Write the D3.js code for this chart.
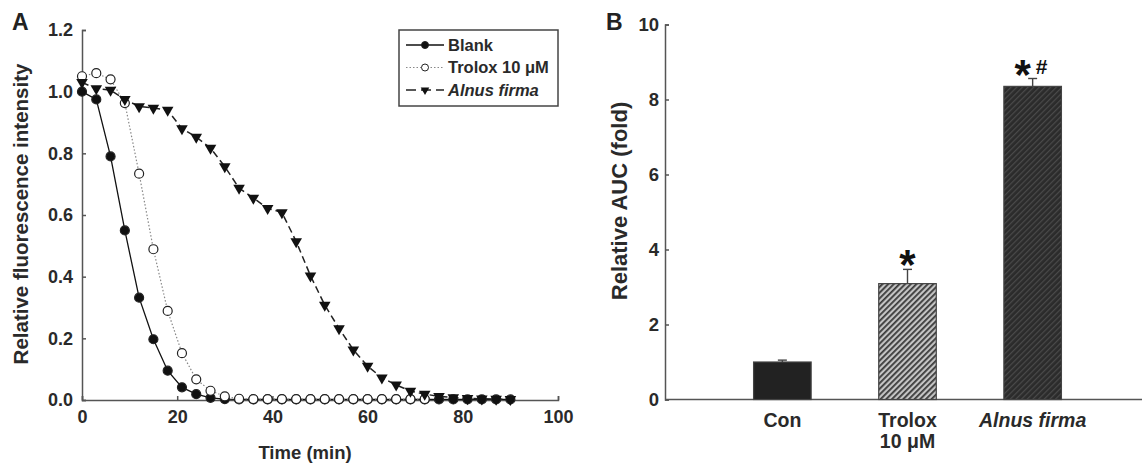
<!DOCTYPE html>
<html>
<head>
<meta charset="utf-8">
<script src="https://cdn.jsdelivr.net/npm/d3@7"></script>
<style>
  body { margin: 0; background: #fff; }
  svg { display: block; font-family: "Liberation Sans", Arial, sans-serif; font-weight: bold; }
  .axis path, .axis line { stroke: #555; stroke-width: 1.5; }
  .axis text { fill: #2a2a2a; font-family: "Liberation Sans", Arial, sans-serif; font-weight: bold; }
</style>
</head>
<body>
<svg width="1142" height="463"></svg>
<script>
// Panel A: time course (min)
const timeBlank = [0, 3, 6, 9, 12, 15, 18, 21, 24, 27, 30, 33, 36, 39, 42, 45, 48, 51, 54, 57, 60, 63, 66, 69, 72, 75, 78, 81, 84, 87, 90];
const blank = [1.0, 0.975, 0.79, 0.55, 0.332, 0.197, 0.095, 0.041, 0.019, 0.007, 0.003, 0.002, 0.002, 0.002, 0.002, 0.002, 0.002, 0.002, 0.002, 0.002, 0.002, 0.002, 0.002, 0.002, 0.002, 0.002, 0.002, 0.002, 0.002, 0.002, 0.002];
const timeTrolox = [0, 3, 6, 9, 12, 15, 18, 21, 24, 27, 30, 33, 36, 39, 42, 45, 48, 51, 54, 57, 60, 63, 66, 69, 72];
const trolox = [1.05, 1.06, 1.04, 0.963, 0.734, 0.489, 0.289, 0.152, 0.067, 0.03, 0.012, 0.004, 0.003, 0.003, 0.003, 0.003, 0.003, 0.003, 0.003, 0.003, 0.003, 0.003, 0.003, 0.003, 0.003];
const timeAlnus = timeBlank;
const alnus = [1.03, 1.01, 1.005, 0.975, 0.952, 0.947, 0.94, 0.88, 0.853, 0.817, 0.757, 0.687, 0.655, 0.622, 0.608, 0.514, 0.403, 0.308, 0.232, 0.163, 0.11, 0.072, 0.049, 0.029, 0.019, 0.012, 0.008, 0.005, 0.004, 0.003, 0.002];
const xTicksA = [0, 20, 40, 60, 80, 100];
const yTicksA = [0, 0.2, 0.4, 0.6, 0.8, 1.0, 1.2];

// Panel B: relative AUC
const groups = ["Con", "Trolox", "Alnus"];
const auc = [1.0, 3.09, 8.35];
const aucErr = [0.05, 0.38, 0.21];
const marks = ["", "*", "*#"];
const yTicksB = [0, 2, 4, 6, 8, 10];

const svg = d3.select("svg");
const defs = svg.append("defs");

// hatch patterns for bars
function hatch(id, bg, fg, w) {
  const p = defs.append("pattern")
    .attr("id", id).attr("patternUnits", "userSpaceOnUse")
    .attr("width", 4).attr("height", 4)
    .attr("patternTransform", "rotate(45)");
  p.append("rect").attr("width", 4).attr("height", 4).attr("fill", bg);
  p.append("rect").attr("width", w).attr("height", 4).attr("fill", fg);
}
hatch("hatchLight", "#c4c4c4", "#3a3a3a", 1.8);
hatch("hatchDark", "#2b2b2b", "#4a4a4a", 1.2);

// ---------- Panel A ----------
const xA = d3.scaleLinear().domain([0, 100]).range([82, 558]);
const yA = d3.scaleLinear().domain([0, 1.2]).range([400, 30]);

svg.append("g").attr("class", "axis")
  .attr("transform", "translate(0,400)")
  .call(d3.axisBottom(xA).tickValues(xTicksA).tickSize(-4).tickSizeOuter(-4).tickPadding(10))
  .selectAll("text").style("font-size", "18px");
svg.append("g").attr("class", "axis")
  .attr("transform", "translate(82,0)")
  .call(d3.axisLeft(yA).tickValues(yTicksA).tickFormat(d3.format(".1f")).tickSize(-4).tickSizeOuter(-4).tickPadding(9))
  .selectAll("text").style("font-size", "18px");

const series = [
  {t: timeBlank, v: blank, dash: null, color: "#111", stroke: 1.3, shape: "circle", fill: "#111"},
  {t: timeTrolox, v: trolox, dash: "1.5,2", color: "#888", stroke: 1.2, shape: "circle", fill: "#fff"},
  {t: timeAlnus, v: alnus, dash: "7,4", color: "#222", stroke: 1.5, shape: "tri", fill: "#111"}
];
const line = d3.line().x(d => xA(d[0])).y(d => yA(d[1]));
const tri = d3.symbol().type(d3.symbolTriangle).size(58);

series.forEach(s => {
  const pts = s.t.map((t, i) => [t, s.v[i]]);
  svg.append("path").datum(pts)
    .attr("d", line).attr("fill", "none")
    .attr("stroke", s.color).attr("stroke-width", s.stroke)
    .attr("stroke-dasharray", s.dash);
});
series.forEach(s => {
  const pts = s.t.map((t, i) => [t, s.v[i]]);
  if (s.shape === "circle") {
    svg.append("g").selectAll("circle").data(pts).enter().append("circle")
      .attr("cx", d => xA(d[0])).attr("cy", d => yA(d[1])).attr("r", 4.5)
      .attr("fill", s.fill).attr("stroke", "#222").attr("stroke-width", 1.2);
  } else {
    svg.append("g").selectAll("path").data(pts).enter().append("path")
      .attr("d", tri)
      .attr("transform", d => `translate(${xA(d[0])},${yA(d[1])}) rotate(180)`)
      .attr("fill", s.fill);
  }
});

// legend
const legend = svg.append("g");
legend.append("rect").attr("x", 399).attr("y", 30).attr("width", 159).attr("height", 76)
  .attr("fill", "#fff").attr("stroke", "#444").attr("stroke-width", 1.5);
const legendNames = ["Blank", "Trolox 10 μM", "Alnus firma"];
series.forEach((s, i) => {
  const ly = 45 + i * 22.5;
  legend.append("line").attr("x1", 406).attr("x2", 444).attr("y1", ly).attr("y2", ly)
    .attr("stroke", s.color).attr("stroke-width", s.stroke).attr("stroke-dasharray", s.dash ? (i === 2 ? "10,5" : s.dash) : null);
  if (s.shape === "circle") {
    legend.append("circle").attr("cx", 425).attr("cy", ly).attr("r", 3.5)
      .attr("fill", s.fill).attr("stroke", "#222").attr("stroke-width", 1);
  } else {
    legend.append("path").attr("d", d3.symbol().type(d3.symbolTriangle).size(32))
      .attr("transform", `translate(425,${ly}) rotate(180)`).attr("fill", s.fill);
  }
  legend.append("text").attr("x", 448).attr("y", ly + 5.5)
    .style("font-size", "16.5px").style("font-style", i === 2 ? "italic" : "normal")
    .attr("fill", "#2a2a2a").text(legendNames[i]);
});

svg.append("text").attr("x", 12).attr("y", 30).style("font-size", "23px").attr("fill", "#222").text("A");
svg.append("text").attr("transform", "translate(28,214) rotate(-90)").attr("text-anchor", "middle")
  .style("font-size", "20.5px").attr("fill", "#2a2a2a").text("Relative fluorescence intensity");
svg.append("text").attr("x", 305).attr("y", 459).attr("text-anchor", "middle")
  .style("font-size", "18.5px").attr("fill", "#2a2a2a").text("Time (min)");

// ---------- Panel B ----------
const xB = d3.scaleBand().domain(groups).range([686, 1129]).padding(0.54);
const yB = d3.scaleLinear().domain([0, 10]).range([399.5, 24.5]);

svg.append("g").attr("class", "axis")
  .attr("transform", "translate(665,0)")
  .call(d3.axisLeft(yB).tickValues(yTicksB).tickSize(-4).tickSizeOuter(-4).tickPadding(6))
  .selectAll("text").style("font-size", "18.5px");
svg.append("line").attr("x1", 665).attr("x2", 1142).attr("y1", 399.5).attr("y2", 399.5)
  .attr("stroke", "#555").attr("stroke-width", 1.5);

const fills = ["#222", "url(#hatchLight)", "url(#hatchDark)"];
groups.forEach((g, i) => {
  const x = xB(g), w = xB.bandwidth(), cx = x + w / 2;
  svg.append("line").attr("x1", cx).attr("x2", cx)
    .attr("y1", yB(auc[i])).attr("y2", yB(auc[i] + aucErr[i]))
    .attr("stroke", "#444").attr("stroke-width", 1.4);
  svg.append("line").attr("x1", cx - 4.5).attr("x2", cx + 4.5)
    .attr("y1", yB(auc[i] + aucErr[i])).attr("y2", yB(auc[i] + aucErr[i]))
    .attr("stroke", "#444").attr("stroke-width", 1.4);
  svg.append("rect").attr("x", x).attr("y", yB(auc[i]))
    .attr("width", w).attr("height", yB(0) - yB(auc[i]))
    .attr("fill", fills[i]).attr("stroke", "#444").attr("stroke-width", 1.2);
});

// significance marks
const top1 = yB(auc[1] + aucErr[1]);
svg.append("text").attr("x", xB("Trolox") + xB.bandwidth() / 2).attr("y", top1 + 10)
  .attr("text-anchor", "middle").style("font-size", "42px").attr("fill", "#111").text(marks[1][0]);
const top2 = yB(auc[2] + aucErr[2]);
const cx2 = xB("Alnus") + xB.bandwidth() / 2;
svg.append("text").attr("x", cx2 - 10).attr("y", top2 + 10)
  .attr("text-anchor", "middle").style("font-size", "42px").attr("fill", "#111").text(marks[2][0]);
svg.append("text").attr("x", cx2 + 9).attr("y", top2 - 5)
  .attr("text-anchor", "middle").style("font-size", "21px").attr("fill", "#111").text(marks[2][1]);

// category labels
const catLab = [["Con"], ["Trolox", "10 μM"], ["Alnus firma"]];
groups.forEach((g, i) => {
  const t = svg.append("text").attr("x", xB(g) + xB.bandwidth() / 2).attr("y", 427)
    .attr("text-anchor", "middle").style("font-size", "19.5px").attr("fill", "#2a2a2a")
    .style("font-style", i === 2 ? "italic" : "normal");
  catLab[i].forEach((s, k) => t.append("tspan").attr("x", xB(g) + xB.bandwidth() / 2).attr("dy", k ? 21 : 0).text(s));
});

svg.append("text").attr("x", 606).attr("y", 30).style("font-size", "23px").attr("fill", "#222").text("B");
svg.append("text").attr("transform", "translate(627,201) rotate(-90)").attr("text-anchor", "middle")
  .style("font-size", "22px").attr("fill", "#2a2a2a").text("Relative AUC (fold)");
</script>
</body>
</html>
